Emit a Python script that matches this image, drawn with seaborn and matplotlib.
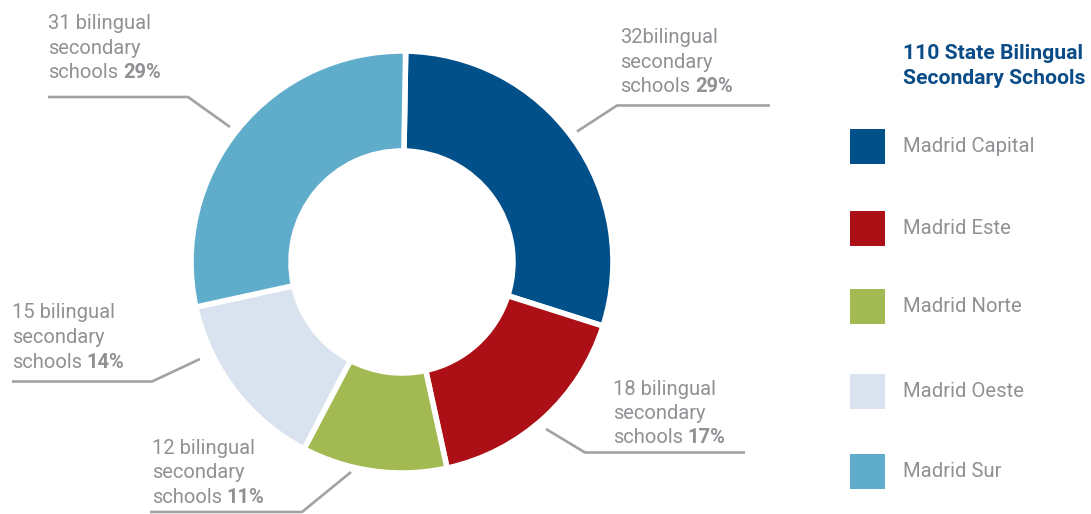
import matplotlib
matplotlib.use("Agg")
import matplotlib.pyplot as plt
from matplotlib.patches import Rectangle
import seaborn as sns

# Data
regions = ["Madrid Capital", "Madrid Este", "Madrid Norte", "Madrid Oeste", "Madrid Sur"]
schools = [32, 18, 12, 15, 31]
percents = ["29%", "17%", "11%", "14%", "29%"]
first_lines = ["32bilingual", "18 bilingual", "12 bilingual", "15 bilingual", "31 bilingual"]
title_lines = ["110 State Bilingual", "Secondary Schools"]
colors = ["#02508A", "#AC1016", "#A3BA52", "#D9E3EF", "#5FADCB"]

sns.set_theme(style="white")
plt.rcParams["font.family"] = ["Roboto", "DejaVu Sans"]

W, H = 1091, 514
fig = plt.figure(figsize=(W / 100, H / 100), dpi=100)
ax = fig.add_axes([0, 0, 1, 1])

palette = sns.color_palette(colors)

# Donut (axes use pixel-like units with y pointing down)
cx, cy, r_out, r_in = 402, 262, 211, 111
ax.pie(schools, colors=palette, startangle=-89, counterclock=True,
       center=(cx, cy), radius=r_out, frame=True,
       wedgeprops=dict(width=r_out - r_in, edgecolor="white", linewidth=4))
ax.set_xlim(0, W)
ax.set_ylim(H, 0)
ax.set_aspect("equal")
ax.axis("off")

TEXT = "#909095"
LINE = "#A2A2A4"
FS = 14.5

# Callout labels: x, first baseline, line spacing, leader polyline
callouts = [
    (620, 43, 24.5, [(770, 105.5), (617, 105.5), (577, 131.5)]),
    (613, 395, 24, [(546, 429), (585, 452.5), (745, 452.5)]),
    (152, 454, 24.5, [(351, 472), (302, 512), (150, 512)]),
    (12, 318, 25, [(12, 381.5), (152, 381.5), (200, 359)]),
    (48, 29, 24.5, [(48, 97), (188, 97), (230, 127)]),
]
for i, (x, y0, dy, pts) in enumerate(callouts):
    ax.text(x, y0, first_lines[i], color=TEXT, fontsize=FS, va="baseline", ha="left")
    ax.text(x, y0 + dy, "secondary", color=TEXT, fontsize=FS, va="baseline", ha="left")
    t = ax.text(x, y0 + 2 * dy, "schools", color=TEXT, fontsize=FS, va="bottom", ha="left")
    t.set_y(y0 + 2 * dy)
    t.set_va("baseline")
    ax.annotate(percents[i], xy=(1, 0), xycoords=t, xytext=(3.5, 0),
                textcoords="offset points", color=TEXT, fontsize=FS,
                fontweight="bold", va="bottom", ha="left")
    xs, ys = zip(*pts)
    ax.plot(xs, ys, color=LINE, lw=1.9, solid_capstyle="butt")

# Title
TITLE = "#0A4C87"
ax.text(903, 59, title_lines[0], color=TITLE, fontsize=15.2, fontweight="bold",
        va="baseline", ha="left")
ax.text(903, 84, title_lines[1], color=TITLE, fontsize=15.2, fontweight="bold",
        va="baseline", ha="left")

# Legend
square_tops = [129, 211, 289, 374, 454]
for name, col, top in zip(regions, palette, square_tops):
    ax.add_patch(Rectangle((850, top), 35, 35, facecolor=col, edgecolor="none"))
    ax.text(903, top + 23, name, color=TEXT, fontsize=14.6, va="baseline", ha="left")

fig.savefig("out.png", dpi=100, facecolor="white")
